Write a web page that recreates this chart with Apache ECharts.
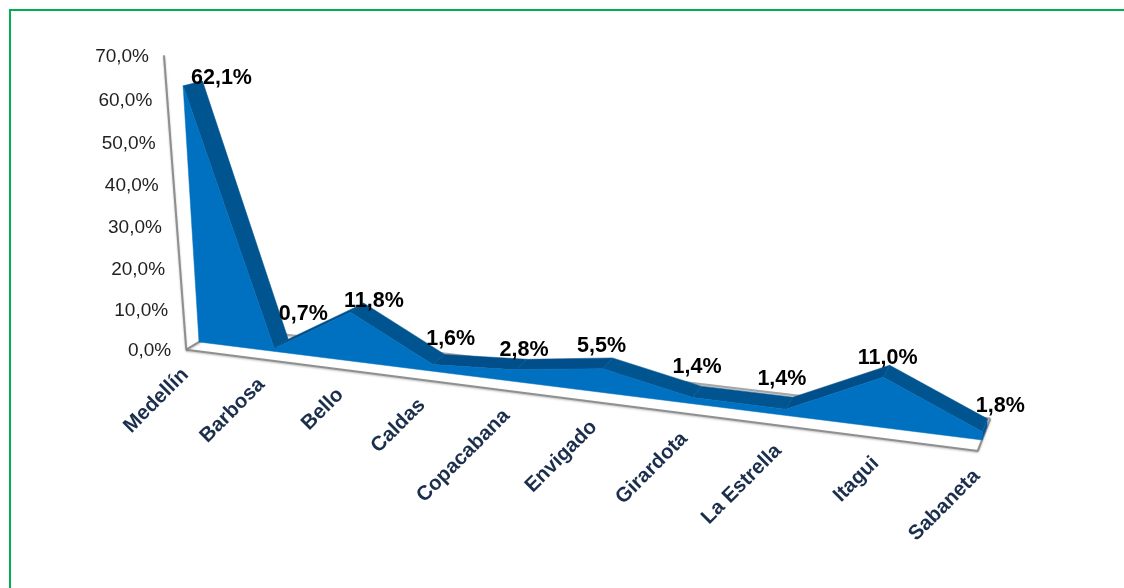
<!DOCTYPE html>
<html>
<head>
<meta charset="utf-8">
<style>
  html, body { margin: 0; padding: 0; background: #fff; }
  #chart { width: 1124px; height: 588px; }
</style>
<script src="https://cdn.jsdelivr.net/npm/echarts@6/dist/echarts.min.js"></script>
</head>
<body>
<div id="chart"></div>
<script>
const categories = ["Medellín", "Barbosa", "Bello", "Caldas", "Copacabana", "Envigado", "Girardota", "La Estrella", "Itagui", "Sabaneta"];
const values = [62.1, 0.7, 11.8, 1.6, 2.8, 5.5, 1.4, 1.4, 11.0, 1.8];
const yTicks = [0, 10, 20, 30, 40, 50, 60, 70];

// perspective of the excel 3d area: plane corners BL, BR, TR, TL
const frontQuad = [[199, 342], [982, 440], [995, 102], [181, 52]];
const backQuad = [[214, 333], [987, 427], [1002, 94], [201, 48]];
const floorFront = -0.85;
const floorBack = 1.65;
// hand placed data labels, as in the original
const labelNudge = [[19, -3], [15, -25], [10, -2], [6, -15], [-3, -9], [-11, -12], [-4, -19], [-11, -18], [-2, -7], [13, -13]];

const FONT = '"Liberation Sans", Arial, sans-serif';
const GREY = "#8f8f8f";

function homography(q) {
  const [x0, y0] = q[0], [x1, y1] = q[1], [x2, y2] = q[2], [x3, y3] = q[3];
  const dx1 = x1 - x2, dx2 = x3 - x2, sx = x0 - x1 + x2 - x3;
  const dy1 = y1 - y2, dy2 = y3 - y2, sy = y0 - y1 + y2 - y3;
  const den = dx1 * dy2 - dx2 * dy1;
  const g = (sx * dy2 - dx2 * sy) / den;
  const h = (dx1 * sy - sx * dy1) / den;
  const a = x1 - x0 + g * x1, b = x3 - x0 + h * x3;
  const d = y1 - y0 + g * y1, e = y3 - y0 + h * y3;
  return (s, t) => {
    const w = g * s + h * t + 1;
    return [(a * s + b * t + x0) / w, (d * s + e * t + y0) / w];
  };
}
const frontMap = homography(frontQuad);
const backMap = homography(backQuad);

// flat grid coordinate -> skewed position, depth 0 = front of area, 1 = back
function project(api, i, v, depth) {
  const o = api.coord([0, 0]);
  const m = api.coord([categories.length - 1, yTicks[yTicks.length - 1]]);
  const p = api.coord([i, v]);
  const s = (p[0] - o[0]) / (m[0] - o[0]);
  const t = (p[1] - o[1]) / (m[1] - o[1]);
  const f = frontMap(s, t), b = backMap(s, t);
  return [f[0] + (b[0] - f[0]) * depth, f[1] + (b[1] - f[1]) * depth];
}

function poly(points, fill) {
  return { type: "polygon", shape: { points: points }, style: { fill: fill, stroke: fill, lineWidth: 0.5 } };
}
function line(a, b, color, width) {
  return {
    type: "line",
    shape: { x1: a[0], y1: a[1], x2: b[0], y2: b[1] },
    style: { stroke: color, lineWidth: width, shadowColor: "rgba(0,0,0,0.25)", shadowBlur: 2, shadowOffsetY: 1 }
  };
}

function renderFrame(params, api) {
  const last = categories.length - 1;
  const top = yTicks[yTicks.length - 1];
  const children = [
    line(project(api, 0, 0, floorFront), project(api, 0, 0, floorBack), GREY, 2),
    line(project(api, 0, 0, floorBack), project(api, last, 0, floorBack), "#a6a6a6", 2),
    line(project(api, last, 0, floorFront), project(api, last, 0, floorBack), GREY, 2),
    line(project(api, 0, 0, floorFront), project(api, last, 0, floorFront), GREY, 2),
    line(project(api, 0, 0, floorFront), project(api, 0, top, floorFront), GREY, 2)
  ];
  return { type: "group", children: children };
}

function renderBand(params, api) {
  const i = api.value(0);
  const children = [];
  if (i < categories.length - 1) {
    const a = values[i], b = values[i + 1];
    children.push(poly([
      project(api, i, a, 0), project(api, i, a, 1),
      project(api, i + 1, b, 1), project(api, i + 1, b, 0)
    ], b > a ? "#004f8a" : "#00548f"));
  } else {
    // end wall of the area
    children.push(poly([
      project(api, i, 0, 0), project(api, i, 0, 1),
      project(api, i, values[i], 1), project(api, i, values[i], 0)
    ], "#00589b"));
  }
  return { type: "group", children: children };
}

function renderFront(params, api) {
  const last = categories.length - 1;
  const pts = [project(api, 0, 0, 0)];
  values.forEach((v, i) => pts.push(project(api, i, v, 0)));
  pts.push(project(api, last, 0, 0));
  return poly(pts, "#0070c0");
}

function renderValueLabel(params, api) {
  const i = api.value(0);
  const p = project(api, i, values[i], 1);
  return {
    type: "text",
    style: {
      x: p[0] + labelNudge[i][0], y: p[1] + labelNudge[i][1],
      text: values[i].toFixed(1).replace(".", ",") + "%",
      font: "bold 21.5px " + FONT, fill: "#000", align: "center", verticalAlign: "middle"
    }
  };
}

function renderCategoryLabel(params, api) {
  const i = api.value(0);
  const p = project(api, i, 0, floorFront);
  return {
    type: "text",
    x: p[0] - 1, y: p[1] + 22,
    rotation: Math.PI / 4,
    style: {
      x: 0, y: 0, text: categories[i],
      font: "bold 20.5px " + FONT, fill: "#1b2f4d", align: "right", verticalAlign: "middle"
    }
  };
}

function renderTickLabel(params, api) {
  const v = yTicks[params.dataIndex];
  const p = project(api, 0, v, floorFront);
  return {
    type: "text",
    style: {
      x: p[0] - 15, y: p[1] + 1.5,
      text: v.toFixed(1).replace(".", ",") + "%",
      font: "19px " + FONT, fill: "#1f1f1f", align: "right", verticalAlign: "middle"
    }
  };
}

const seriesData = values.map((v, i) => [i, v]);
const chart = echarts.init(document.getElementById("chart"));
chart.setOption({
  animation: false,
  backgroundColor: "#fff",
  grid: { left: 200, right: 140, top: 60, bottom: 150 },
  xAxis: { type: "category", data: categories, boundaryGap: false, show: false },
  yAxis: { type: "value", min: 0, max: 70, interval: 10, show: false },
  graphic: [{
    type: "polyline",
    silent: true,
    shape: { points: [[10, 588], [10, 10], [1124, 10]] },
    style: { stroke: "#00b050", lineWidth: 2, fill: null }
  }],
  series: [
    { type: "custom", name: "frame", data: [[0, 0]], renderItem: renderFrame, silent: true, z: 1 },
    { type: "custom", name: "band", data: seriesData, renderItem: renderBand, silent: true, z: 2 },
    { type: "custom", name: "front", data: [[0, 0]], renderItem: renderFront, silent: true, z: 3 },
    { type: "custom", name: "ticks", data: yTicks.map(v => [0, v]), renderItem: renderTickLabel, silent: true, z: 4 },
    { type: "custom", name: "cats", data: seriesData, renderItem: renderCategoryLabel, silent: true, z: 4 },
    { type: "custom", name: "labels", data: seriesData, renderItem: renderValueLabel, silent: true, z: 5 }
  ]
});
</script>
</body>
</html>
